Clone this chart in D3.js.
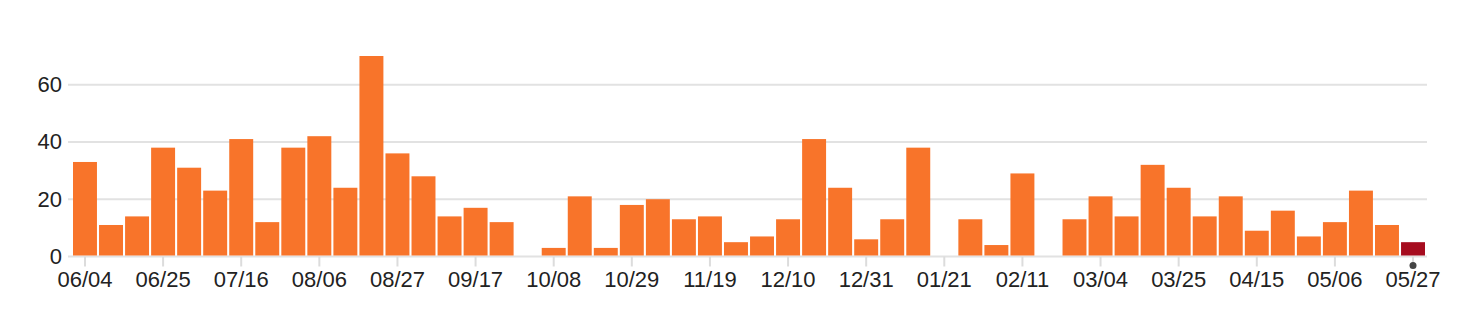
<!DOCTYPE html>
<html>
<head>
<meta charset="utf-8">
<script src="https://cdn.jsdelivr.net/npm/d3@7"></script>
<style>
    body { margin: 0; background: #fff; }
    .axis text { font-family: "Liberation Sans", Arial, sans-serif; font-size: 22px; fill: #222; }
</style>
</head>
<body>
<div class="weekly-chart"></div>
<script>
"use strict";

const weeks = [
    "06/04", "06/11", "06/18", "06/25", "07/02", "07/09", "07/16", "07/23", "07/30",
    "08/06", "08/13", "08/20", "08/27", "09/03", "09/10", "09/17", "09/24", "10/01",
    "10/08", "10/15", "10/22", "10/29", "11/05", "11/12", "11/19", "11/26", "12/03",
    "12/10", "12/17", "12/24", "12/31", "01/07", "01/14", "01/21", "01/28", "02/04",
    "02/11", "02/18", "02/25", "03/04", "03/11", "03/18", "03/25", "04/01", "04/08",
    "04/15", "04/22", "04/29", "05/06", "05/13", "05/20", "05/27"
];
const counts = [
    33, 11, 14, 38, 31, 23, 41, 12, 38,
    42, 24, 70, 36, 28, 14, 17, 12, 0,
    3, 21, 3, 18, 20, 13, 14, 5, 7,
    13, 41, 24, 6, 13, 38, 0, 13, 4,
    29, 0, 13, 21, 14, 32, 24, 14, 21,
    9, 16, 7, 12, 23, 11, 5
];
const y_ticks = [0, 20, 40, 60];
const x_tick_labels = weeks.filter((d, i) => i % 3 === 0);
const current_week = "05/27";

window.onload = () => main();

function main() {
    const config = {
        width: 1484,
        height: 334,
        grid_left: 68,
        grid_right: 1427,
        bars_left: 73,
        bars_right: 1425,
        top: 56,
        bottom: 256.5
    };

    const svg = d3.select(".weekly-chart")
        .append("svg")
        .attr("width", config.width)
        .attr("height", config.height);

    const x = d3.scaleBand()
        .domain(weeks)
        .range([config.bars_left, config.bars_right])
        .paddingInner(0.08);

    const y = d3.scaleLinear()
        .domain([0, d3.max(counts)])
        .range([config.bottom, config.top]);

    // grid lines
    svg.append("g")
        .selectAll("line")
        .data(y_ticks)
        .enter()
        .append("line")
        .attr("x1", config.grid_left)
        .attr("x2", config.grid_right)
        .attr("y1", (d) => y(d))
        .attr("y2", (d) => y(d))
        .attr("stroke", "#e2e2e2")
        .attr("stroke-width", 2);

    // y labels
    const y_axis = svg.append("g")
        .attr("class", "axis")
        .attr("transform", `translate(${config.grid_left},0)`)
        .call(d3.axisLeft(y).tickValues(y_ticks).tickSize(0).tickPadding(6));
    y_axis.select(".domain").remove();

    // x axis
    const x_axis = svg.append("g")
        .attr("class", "axis")
        .attr("transform", `translate(0,${config.bottom})`)
        .call(d3.axisBottom(x).tickValues(x_tick_labels).tickSize(10).tickPadding(5));
    x_axis.select(".domain").remove();
    x_axis.selectAll(".tick line")
        .attr("stroke", "#dcdcdc")
        .attr("stroke-width", 2);

    // bars
    svg.append("g")
        .selectAll("rect")
        .data(weeks.map((w, i) => ({ week: w, count: counts[i] })))
        .enter()
        .append("rect")
        .attr("x", (d) => x(d.week))
        .attr("y", (d) => y(d.count))
        .attr("width", x.bandwidth())
        .attr("height", (d) => y(0) - y(d.count) - 1)
        .attr("fill", (d) => d.week === current_week ? "#a60c1f" : "#f8742a");

    // marker for current week
    svg.append("circle")
        .attr("cx", x(current_week) + x.bandwidth() / 2)
        .attr("cy", config.bottom + 9)
        .attr("r", 3.5)
        .attr("fill", "#444");
}
</script>
</body>
</html>
